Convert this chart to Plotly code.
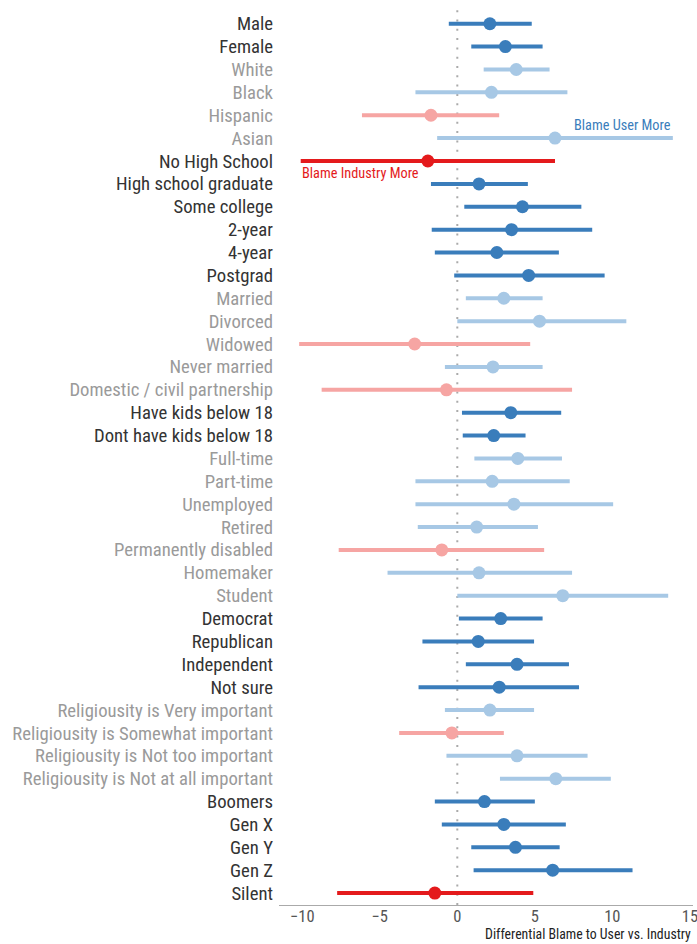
import plotly.graph_objects as go

categories = ["Male", "Female", "White", "Black", "Hispanic", "Asian",
              "No High School", "High school graduate", "Some college", "2-year", "4-year", "Postgrad",
              "Married", "Divorced", "Widowed", "Never married", "Domestic / civil partnership",
              "Have kids below 18", "Dont have kids below 18",
              "Full-time", "Part-time", "Unemployed", "Retired", "Permanently disabled", "Homemaker", "Student",
              "Democrat", "Republican", "Independent", "Not sure",
              "Religiousity is Very important", "Religiousity is Somewhat important",
              "Religiousity is Not too important", "Religiousity is Not at all important",
              "Boomers", "Gen X", "Gen Y", "Gen Z", "Silent"]
estimate = [2.1, 3.1, 3.8, 2.2, -1.7, 6.3,
            -1.9, 1.4, 4.2, 3.5, 2.55, 4.6,
            3.0, 5.3, -2.75, 2.3, -0.7,
            3.45, 2.35,
            3.9, 2.25, 3.65, 1.25, -1.0, 1.4, 6.8,
            2.8, 1.35, 3.85, 2.7,
            2.1, -0.35, 3.85, 6.35,
            1.75, 3.0, 3.75, 6.15, -1.45]
lower = [-0.55, 0.9, 1.7, -2.7, -6.15, -1.3,
         -10.1, -1.7, 0.45, -1.65, -1.45, -0.2,
         0.55, 0.0, -10.2, -0.8, -8.75,
         0.3, 0.35,
         1.1, -2.7, -2.7, -2.55, -7.65, -4.5, 0.0,
         0.1, -2.25, 0.55, -2.5,
         -0.8, -3.75, -0.7, 2.75,
         -1.45, -1.0, 0.9, 1.05, -7.75]
upper = [4.8, 5.5, 5.95, 7.1, 2.7, 13.9,
         6.3, 4.55, 8.0, 8.7, 6.55, 9.5,
         5.5, 10.9, 4.7, 5.5, 7.4,
         6.7, 4.4,
         6.75, 7.25, 10.05, 5.2, 5.6, 7.4, 13.6,
         5.5, 4.95, 7.2, 7.85,
         4.95, 3.0, 8.4, 9.9,
         5.0, 7.0, 6.6, 11.3, 4.9]
# group shade: True = dark group, False = light group
dark_group = [True, True, False, False, False, False,
              True, True, True, True, True, True,
              False, False, False, False, False,
              True, True,
              False, False, False, False, False, False, False,
              True, True, True, True,
              False, False, False, False,
              True, True, True, True, True]
tick_values = [-10, -5, 0, 5, 10, 15]
tick_labels = ["−10", "−5", "0", "5", "10", "15"]

FONT = "Roboto Condensed, Roboto, sans-serif"
DARK_BLUE = "#3a7dbb"
LIGHT_BLUE = "#a7c8e5"
RED = "#e41a1c"
PINK = "#f6a5a3"

def color_for(i):
    if dark_group[i]:
        return DARK_BLUE if estimate[i] >= 0 else RED
    return LIGHT_BLUE if estimate[i] >= 0 else PINK

fig = go.Figure()
for col in [DARK_BLUE, LIGHT_BLUE, RED, PINK]:
    xs, ys, px, py = [], [], [], []
    for i, c in enumerate(categories):
        if color_for(i) != col:
            continue
        xs += [lower[i], upper[i], None]
        ys += [c, c, None]
        px.append(estimate[i])
        py.append(c)
    if not px:
        continue
    fig.add_trace(go.Scatter(x=xs, y=ys, mode="lines", line=dict(color=col, width=4),
                             hoverinfo="skip", showlegend=False))
    fig.add_trace(go.Scatter(x=px, y=py, mode="markers", marker=dict(color=col, size=13),
                             showlegend=False))

ticktext = []
for i, c in enumerate(categories):
    tcol = "#333333" if dark_group[i] else "#9a9a9a"
    ticktext.append(f'<span style="color:{tcol}">{c}</span>')

fig.add_shape(type="line", x0=0, x1=0, xref="x", yref="paper", y0=0, y1=1,
              line=dict(color="#aaaaaa", width=2, dash="2px,7.3px"), layer="below")

fig.add_annotation(x=13.9, y="Asian", xref="x", yref="y", text="Blame User More",
                   showarrow=False, xanchor="right", yanchor="bottom", yshift=3,
                   font=dict(family=FONT, size=14.3, color=DARK_BLUE))
fig.add_annotation(x=-10.15, y="No High School", xref="x", yref="y", text="Blame Industry More",
                   showarrow=False, xanchor="left", yanchor="top", yshift=-2,
                   font=dict(family=FONT, size=14.3, color=RED))
fig.add_annotation(x=1, y=0, xref="paper", yref="paper", text="Differential Blame to User vs. Industry",
                   showarrow=False, xanchor="right", yanchor="bottom", yshift=-39, xshift=0,
                   font=dict(family=FONT, size=13.8, color="#222222"))

fig.update_layout(
    width=697, height=944,
    margin=dict(l=279, r=4, t=10, b=39, autoexpand=False),
    paper_bgcolor="white", plot_bgcolor="white",
    font=dict(family=FONT),
    xaxis=dict(range=[-11.5, 15.2], tickvals=tick_values, ticktext=tick_labels, automargin=False,
               ticklabeloverflow="allow", ticklabelstandoff=-4,
               showgrid=False, zeroline=False, showline=True, linecolor="#aaaaaa", linewidth=1,
               ticks="", tickfont=dict(family=FONT, size=16.5, color="#555555")),
    yaxis=dict(type="category", categoryorder="array", categoryarray=categories, automargin=False,
               tickvals=categories, ticktext=ticktext,
               range=[38.52, -0.6], showgrid=False, zeroline=False, showline=False,
               ticks="", ticklabelstandoff=5, tickfont=dict(family=FONT, size=18.7)),
)

fig.write_html("out.html")
